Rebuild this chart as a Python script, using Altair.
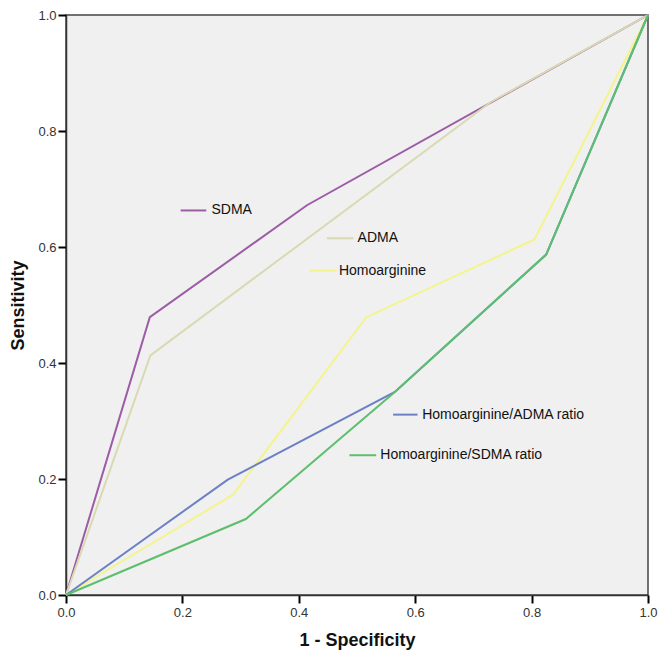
import altair as alt
import pandas as pd

series_names = ["SDMA", "ADMA", "Homoarginine", "Homoarginine/ADMA ratio", "Homoarginine/SDMA ratio"]
sdma_x = [0.0, 0.144, 0.414, 1.0]
sdma_y = [0.0, 0.479, 0.672, 1.0]
adma_x = [0.0, 0.145, 0.73, 1.0]
adma_y = [0.0, 0.413, 0.85, 1.0]
homo_x = [0.0, 0.287, 0.516, 0.805, 1.0]
homo_y = [0.0, 0.173, 0.479, 0.613, 1.0]
hadma_x = [0.0, 0.278, 0.565, 0.825, 1.0]
hadma_y = [0.0, 0.199, 0.35, 0.587, 1.0]
hsdma_x = [0.0, 0.309, 0.565, 0.825, 1.0]
hsdma_y = [0.0, 0.131, 0.35, 0.587, 1.0]
colors = ["#9c5ca6", "#d9d9b2", "#f4f48c", "#6c80c6", "#5dbf6d"]
tick_values = [0.0, 0.2, 0.4, 0.6, 0.8, 1.0]

# inline label annotations: segment start/end x, y, text x
label_seg_x1 = [0.197, 0.448, 0.418, 0.562, 0.487]
label_seg_x2 = [0.241, 0.494, 0.465, 0.604, 0.533]
label_y = [0.663, 0.615, 0.559, 0.311, 0.241]
label_text_x = [0.250, 0.501, 0.469, 0.612, 0.540]

rows = []
for name, xs, ys in zip(series_names,
                        [sdma_x, adma_x, homo_x, hadma_x, hsdma_x],
                        [sdma_y, adma_y, homo_y, hadma_y, hsdma_y]):
    for i, (a, b) in enumerate(zip(xs, ys)):
        rows.append({"series": name, "x": a, "y": b, "order": i})
df = pd.DataFrame(rows)

lab = pd.DataFrame({"series": series_names, "x1": label_seg_x1, "x2": label_seg_x2,
                    "y": label_y, "tx": label_text_x})

xs = alt.Scale(domain=[0, 1], nice=False, zero=False)
ys = alt.Scale(domain=[0, 1], nice=False, zero=False)
cs = alt.Scale(domain=series_names, range=colors)

common = dict(values=tick_values, format=".1f", labelFlush=False,
              ticks=True, tickSize=8, tickWidth=2, tickColor="#000000", tickOpacity=1,
              domain=True, domainColor="#333333", domainWidth=1.5, grid=False,
              labelFont="Liberation Sans", labelFontSize=13, labelColor="#333333",
              titleFont="Liberation Sans", titleFontSize=18, titleFontWeight="bold",
              titleColor="#111111")
xaxis = alt.Axis(title="1 - Specificity", labelPadding=3, titlePadding=12, **common)
yaxis = alt.Axis(title="Sensitivity", labelPadding=2, titlePadding=10, **common)

lines = alt.Chart(df).mark_line(strokeWidth=2).encode(
    x=alt.X("x:Q", scale=xs, axis=xaxis),
    y=alt.Y("y:Q", scale=ys, axis=yaxis),
    color=alt.Color("series:N", scale=cs, legend=None),
    order="order:Q",
    detail="series:N",
)

segs = alt.Chart(lab).mark_rule(strokeWidth=2).encode(
    x=alt.X("x1:Q", scale=xs, axis=xaxis), x2="x2:Q", y=alt.Y("y:Q", scale=ys, axis=yaxis),
    color=alt.Color("series:N", scale=cs, legend=None),
)

texts = alt.Chart(lab).mark_text(align="left", baseline="middle", font="Liberation Sans",
                                 fontSize=14, color="#111").encode(
    x=alt.X("tx:Q", scale=xs, axis=xaxis), y=alt.Y("y:Q", scale=ys, axis=yaxis), text="series:N",
)

chart = alt.layer(lines, segs, texts).properties(
    width=582, height=580,
    autosize=alt.AutoSizeParams(type="none"),
    padding={"left": 58, "top": 7, "right": 10, "bottom": 56},
    background="white",
).configure_view(fill="#f0f0f0", stroke="#444", strokeWidth=1.5)

chart.save("out.html", embed_options={"renderer": "svg", "actions": False})
